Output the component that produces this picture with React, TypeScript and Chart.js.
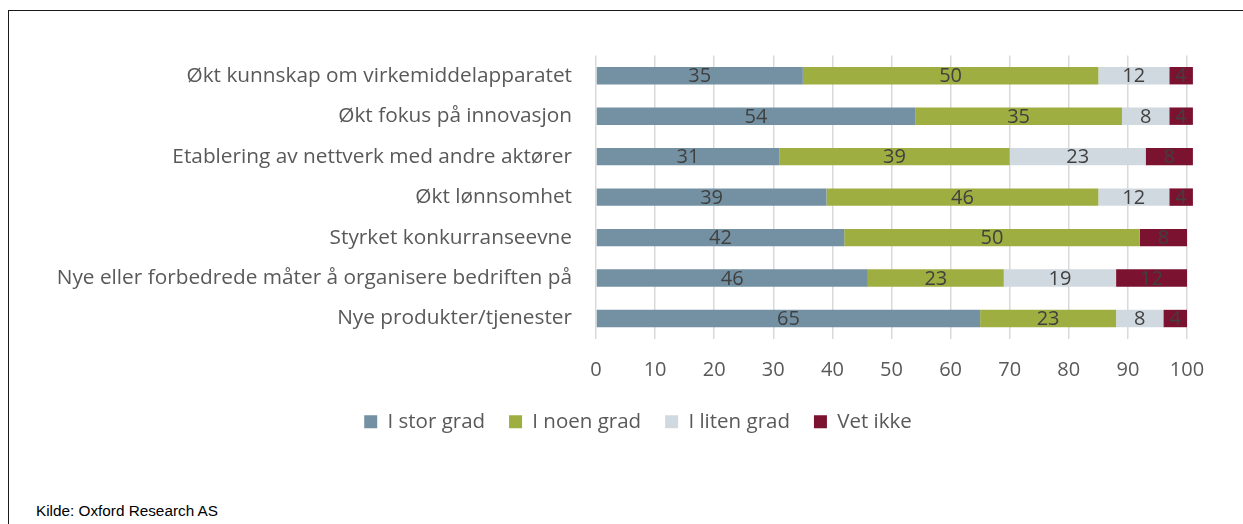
import { useEffect, useRef } from "react";
import { Chart, registerables } from "chart.js";

Chart.register(...registerables);

const categories = [
  "Økt kunnskap om virkemiddelapparatet",
  "Økt fokus på innovasjon",
  "Etablering av nettverk med andre aktører",
  "Økt lønnsomhet",
  "Styrket konkurranseevne",
  "Nye eller forbedrede måter å organisere bedriften på",
  "Nye produkter/tjenester",
];
const seriesNames = ["I stor grad", "I noen grad", "I liten grad", "Vet ikke"];
const storGrad = [35, 54, 31, 39, 42, 46, 65];
const noenGrad = [50, 35, 39, 46, 50, 23, 23];
const litenGrad = [12, 8, 23, 12, 0, 19, 8];
const vetIkke = [4, 4, 8, 4, 8, 12, 4];
const seriesColors = ["#7491A3", "#9FAE40", "#D1D9E0", "#7B1230"];
const xMin = 0;
const xMax = 100;
const xStep = 10;

const FONT = "'Open Sans'";

const barLabels = {
  id: "barLabels",
  afterDatasetsDraw(chart: any) {
    const ctx = chart.ctx;
    ctx.save();
    ctx.font = `20px ${FONT}`;
    ctx.fillStyle = "#404040";
    ctx.textAlign = "center";
    ctx.textBaseline = "middle";
    chart.data.datasets.forEach((ds: any, i: number) => {
      const meta = chart.getDatasetMeta(i);
      meta.data.forEach((bar: any, j: number) => {
        const v = ds.data[j];
        if (!v) return;
        const p = bar.getProps(["x", "y", "base"], true);
        ctx.fillText(String(v), (p.x + p.base) / 2, p.y + 1);
      });
    });
    ctx.restore();
  },
};

export default function App() {
  const canvasRef = useRef<HTMLCanvasElement | null>(null);

  useEffect(() => {
    if (!canvasRef.current) return;
    const all = [storGrad, noenGrad, litenGrad, vetIkke];
    const chart = new Chart(canvasRef.current, {
      type: "bar",
      data: {
        labels: categories,
        datasets: all.map((d, i) => ({
          label: seriesNames[i],
          data: d,
          backgroundColor: seriesColors[i],
          borderWidth: 0,
          barPercentage: 0.43,
          categoryPercentage: 1,
          clip: false as any,
        })),
      },
      options: {
        indexAxis: "y",
        animation: false,
        responsive: true,
        maintainAspectRatio: false,
        layout: { padding: { left: 30, right: 10, top: 10, bottom: 10 } },
        plugins: {
          legend: {
            position: "bottom",
            labels: {
              boxWidth: 13,
              boxHeight: 13,
              padding: 24,
              color: "#595959",
              font: { family: FONT, size: 20.5 },
            },
          },
          tooltip: { enabled: false },
        },
        scales: {
          x: {
            stacked: true,
            min: xMin,
            max: xMax,
            ticks: {
              stepSize: xStep,
              color: "#595959",
              font: { family: FONT, size: 20 },
              padding: 20,
            },
            grid: { color: "#D9D9D9", lineWidth: 1.5, drawTicks: false },
            border: { display: false },
            afterFit(scale: any) {
              scale.height = 48.75;
            },
          },
          y: {
            stacked: true,
            ticks: {
              color: "#595959",
              font: { family: FONT, size: 20.8 },
              padding: 16,
            },
            grid: { display: false },
            border: { display: false },
            afterFit(scale: any) {
              scale.width = 546;
            },
          },
          yRight: {
            type: "category",
            position: "right",
            ticks: { display: false },
            grid: { display: false },
            border: { display: false },
            afterFit(scale: any) {
              scale.width = 39;
            },
          },
        },
      },
      plugins: [barLabels],
    });
    return () => chart.destroy();
  }, []);

  return (
    <div
      style={{
        position: "absolute",
        left: 0,
        top: 0,
        width: 1243,
        height: 524,
        overflow: "hidden",
        background: "#fff",
      }}
    >
      <div
        style={{
          position: "absolute",
          left: 8,
          top: 10,
          width: 1400,
          height: 700,
          borderTop: "1px solid #1a1a1a",
          borderLeft: "1px solid #1a1a1a",
        }}
      />
      <div
        style={{
          position: "absolute",
          left: 20,
          top: 27,
          width: 1216,
          height: 425,
        }}
      >
        <canvas ref={canvasRef} />
      </div>
      <div
        style={{
          position: "absolute",
          left: 36,
          top: 502,
          fontFamily: "'Liberation Sans', Arial, sans-serif",
          fontSize: 15.3,
          color: "#000",
          whiteSpace: "nowrap",
        }}
      >
        Kilde: Oxford Research AS
      </div>
    </div>
  );
}
